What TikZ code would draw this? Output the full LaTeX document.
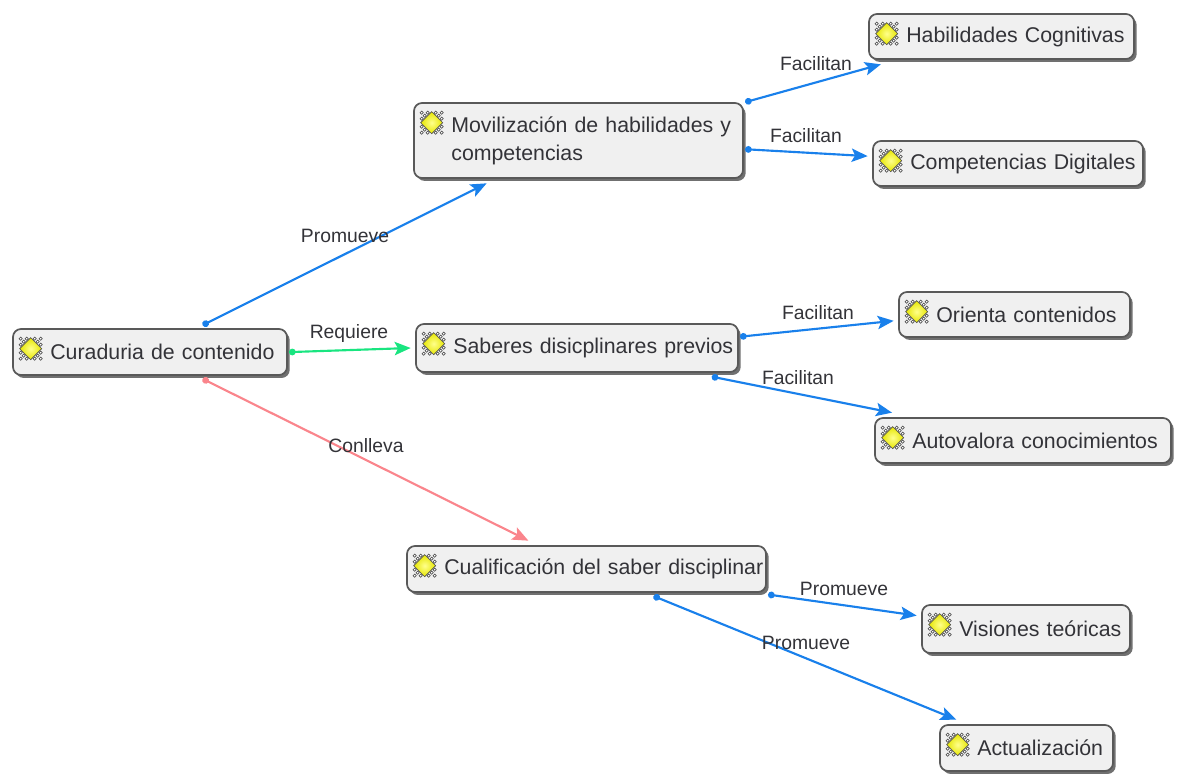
\documentclass[tikz,border=0pt]{standalone}
\usepackage{fontspec}
\setmainfont[WordSpace=0.7]{Liberation Sans}
\usetikzlibrary{arrows.meta,calc,shadows}
\definecolor{azul}{rgb}{0.10,0.50,0.92}
\definecolor{verde}{rgb}{0.10,0.90,0.50}
\definecolor{rojo}{rgb}{0.98,0.52,0.55}
\definecolor{tinta}{rgb}{0.20,0.20,0.22}
\tikzset{every picture/.style={line width=0.75pt}}
\tikzset{
  concepto/.style 2 args={draw=black!65,line width=1.3pt,rounded corners=6pt,fill=black!6,
    drop shadow={shadow xshift=2pt,shadow yshift=-2.2pt,fill=black!75,opacity=0.75},
    outer sep=4pt,inner xsep=1pt,inner ysep=0pt,align=left,text=tinta,font=\fontsize{16}{21}\selectfont,
    text width={#1*0.75pt-2pt},minimum height={#2*0.75pt}},
  etiqueta/.style={text=tinta,font=\fontsize{14.5}{18}\selectfont,inner sep=0.75pt},
  enlace/.style={line width=1.6pt,color=azul,shorten <=-2.5pt,{Circle[length=5pt]}-{Stealth[length=12pt,width=10pt,inset=2.5pt]}},
  gema/.pic={
    \foreach \sx in {-1,1} \foreach \sy in {-1,1} {
      \foreach \a/\b in {10/4,10/10,4/10,7/7}
        \draw [line width=0.45pt,color=black!70,fill=white] (\sx*\a,\sy*\b) circle [radius=1.6];
    }
    \draw [line width=0.5pt,color=black!70,inner color=yellow!45!white,outer color=yellow!90!black] (-11,0) -- (0,-11) -- (11,0) -- (0,11) -- cycle;
  }
}
\newcommand{\sangria}{\hspace*{27pt}}

\begin{document}
\begin{tikzpicture}[x=0.75pt,y=0.75pt,yscale=-1,xscale=1]
\useasboundingbox (0,0) rectangle (1178,774);

% Concepts
\node [concepto={274}{46}] (curaduria) at (150,352) {\sangria Curaduria de contenido};
\node [concepto={329}{75}] (movilizacion) at (578.5,140.5) {\sangria Movilización de habilidades y\\\sangria competencias};
\node [concepto={322}{48}] (saberes) at (577,348) {\sangria Saberes disicplinares previos};
\node [concepto={359}{46}] (cualificacion) at (586.5,569) {\sangria Cualificación del saber disciplinar};
\node [concepto={265}{45}] (habilidades) at (1001.5,36.5) {\sangria Habilidades Cognitivas};
\node [concepto={270}{45}] (competencias) at (1008,163.5) {\sangria Competencias Digitales};
\node [concepto={231}{45}] (orienta) at (1014.5,314.5) {\sangria Orienta contenidos};
\node [concepto={296}{45}] (autovalora) at (1023,440.5) {\sangria Autovalora conocimientos};
\node [concepto={208}{48}] (visiones) at (1026,629) {\sangria Visiones teóricas};
\node [concepto={173}{46}] (actualizacion) at (1026.5,748) {\sangria Actualización};

% Icons
\foreach \nombre in {curaduria,saberes,cualificacion,habilidades,competencias,orienta,autovalora,visiones,actualizacion,movilizacion}
  \pic at ($(\nombre.north west)+(23,25)$) {gema};

% Links
\draw [enlace] (curaduria.27.8) -- (movilizacion.205.4);
\draw [enlace,color=verde] (curaduria.east) -- (saberes.west);
\draw [enlace,color=rojo] (curaduria.-27) -- (cualificacion.154.4);
\draw [enlace] (movilizacion.13.8) -- (habilidades.193.4);
\draw [enlace] (movilizacion.-3.2) -- (competencias.177.8);
\draw [enlace] (saberes.4.5) -- (orienta.183.6);
\draw [enlace] (saberes.-12.4) -- (autovalora.168.4);
\draw [enlace] (cualificacion.-8) -- (visiones.173.2);
\draw [enlace] (cualificacion.-22.4) -- (actualizacion.158.4);

% Text Node
\node [etiqueta] (promueveA) at (345,236) {Promueve};
\node [etiqueta] (requiere) at (349,333) {Requiere};
\node [etiqueta] (conlleva) at (366,446) {Conlleva};
\node [etiqueta] (facilitanA) at (816,64) {Facilitan};
\node [etiqueta] (facilitanB) at (806,136) {Facilitan};
\node [etiqueta] (facilitanC) at (818,313) {Facilitan};
\node [etiqueta] (facilitanD) at (798,378) {Facilitan};
\node [etiqueta] (promueveB) at (844,589) {Promueve};
\node [etiqueta] (promueveC) at (806,643) {Promueve};

\end{tikzpicture}
\end{document}
